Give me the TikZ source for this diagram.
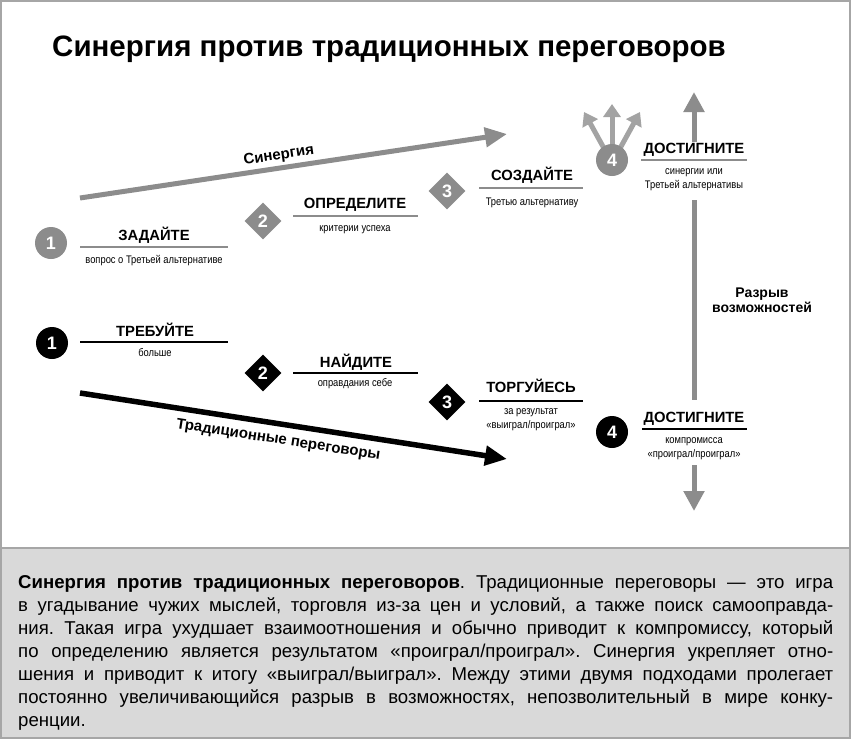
\documentclass[tikz,border=0pt]{standalone}
\usepackage{fontspec}
\setmainfont{Liberation Sans}
\newfontfamily\condf[FakeStretch=0.85]{Liberation Sans}
\usetikzlibrary{arrows.meta,shapes.geometric}
\definecolor{mgray}{HTML}{8C8C8C}
\definecolor{lgray}{HTML}{A3A3A3}
\definecolor{panel}{HTML}{D9D9D9}
\definecolor{framec}{HTML}{A6A6A6}
\begin{document}
\begin{tikzpicture}[x=1pt,y=-1pt,
  headt/.style={font=\fontsize{14.8}{16}\selectfont\bfseries, inner sep=0pt, anchor=base},
  subt/.style={font=\condf\fontsize{11}{13.5}\selectfont, align=center, inner sep=0pt, anchor=north},
  numc/.style={circle, fill=#1, minimum size=32pt, inner sep=0pt, text=white, font=\fontsize{18}{18}\selectfont\bfseries},
  numd/.style={diamond, fill=#1, minimum size=37pt, inner sep=0pt, text=white, font=\fontsize{18}{18}\selectfont\bfseries},
  rulegray/.style={draw=mgray, line width=1.6pt},
  ruleblack/.style={draw=black, line width=1.6pt},
  lbl/.style={font=\fontsize{15}{16}\selectfont\bfseries, inner sep=2pt},
  garrow/.style={draw=mgray, line width=5pt, -{Triangle[length=22pt,width=19pt]}},
  barrow/.style={draw=black, line width=5.5pt, -{Triangle[length=22pt,width=19pt]}},
  varrow/.style={draw=mgray, line width=5pt, -{Triangle[length=20pt,width=20pt]}},
  farrow/.style={draw=lgray, line width=5pt, -{Triangle[length=13pt,width=17pt]}}
]
\useasboundingbox (0,0) rectangle (851,739);
% frame and panel
\path[fill=white] (1,1) rectangle (850,548);
\path[fill=panel, draw=framec, line width=1.5pt] (1,548) rectangle (850,738);
\draw[framec, line width=2pt] (1,1) rectangle (850,738);

% title
\node[anchor=base west, inner sep=0pt, font=\fontsize{29.5}{30}\selectfont\bfseries] (title) at (52,56) {Синергия против традиционных переговоров};

% main arrows
\coordinate (s0) at (80,198);
\coordinate (s1) at (507,134);
\draw[garrow] (s0) -- node[pos=0.47, sloped, above=1pt, lbl] (synl) {Синергия} (s1);
\coordinate (t0) at (80,393);
\coordinate (t1) at (507,459);
\draw[barrow] (t0) -- node[pos=0.47, sloped, below=5pt, lbl] (tradl) {Традиционные переговоры} (t1);

% vertical gap arrows
\coordinate (u0) at (694,142);
\coordinate (u1) at (694,92);
\draw[varrow] (u0) -- (u1);
\coordinate (m0) at (694,200);
\coordinate (m1) at (694,400);
\draw[draw=mgray, line width=5pt] (m0) -- (m1);
\coordinate (d0) at (694,465);
\coordinate (d1) at (694,511);
\draw[varrow] (d0) -- (d1);
\node[font=\fontsize{14}{15}\selectfont\bfseries, align=center, inner sep=0pt] (gap) at (762,300) {Разрыв\\возможностей};

% fan arrows
\coordinate (f0) at (606,152);
\coordinate (f1) at (584,112);
\coordinate (g0) at (612,152);
\coordinate (g1) at (612,104);
\coordinate (h0) at (618,152);
\coordinate (h1) at (640,112);
\draw[farrow] (f0) -- (f1);
\draw[farrow] (g0) -- (g1);
\draw[farrow] (h0) -- (h1);

% synergy steps
\node[numc=mgray] (a1) at (51,243) {1};
\node[headt] (ah1) at (154,240) {ЗАДАЙТЕ};
\draw[rulegray] (80,247) -- (228,247);
\node[subt] (as1) at (154,255.5) {вопрос о Третьей альтернативе};

\node[numd=mgray] (a2) at (263,221) {2};
\node[headt] (ah2) at (355,208.5) {ОПРЕДЕЛИТЕ};
\draw[rulegray] (293,216) -- (418,216);
\node[subt] (as2) at (355,225.5) {критерии успеха};

\node[numd=mgray] (a3) at (447,191) {3};
\node[headt] (ah3) at (532,180.5) {СОЗДАЙТЕ};
\draw[rulegray] (479,188) -- (583,188);
\node[subt] (as3) at (532,197.5) {Третью альтернативу};

\node[numc=mgray] (a4) at (612,160) {4};
\node[headt] (ah4) at (694,153.5) {ДОСТИГНИТЕ};
\draw[rulegray] (641,160) -- (747,160);
\node[subt] (as4) at (694,168.5) {синергии или\\Третьей альтернативы};

% traditional steps
\node[numc=black] (b1) at (52,343) {1};
\node[headt] (bh1) at (155,336.5) {ТРЕБУЙТЕ};
\draw[ruleblack] (80,342) -- (228,342);
\node[subt] (bs1) at (155,348.5) {больше};

\node[numd=black] (b2) at (263,373) {2};
\node[headt] (bh2) at (356,367.5) {НАЙДИТЕ};
\draw[ruleblack] (293,373) -- (418,373);
\node[subt] (bs2) at (355,378.5) {оправдания себе};

\node[numd=black] (b3) at (447,402) {3};
\node[headt] (bh3) at (531,392.5) {ТОРГУЙЕСЬ};
\draw[ruleblack] (479,401) -- (583,401);
\node[subt] (bs3) at (531,408.5) {за результат\\«выиграл/проиграл»};

\node[numc=black] (b4) at (612,432) {4};
\node[headt] (bh4) at (694,422.5) {ДОСТИГНИТЕ};
\draw[ruleblack] (642,429) -- (747,429);
\node[subt] (bs4) at (694,437.5) {компромисса\\«проиграл/проиграл»};

% caption
\node[anchor=north west, inner sep=0pt, text width=815pt, align=justify, font=\fontsize{18.6}{23}\selectfont\frenchspacing] (cap) at (18,575) {{\bfseries Синергия против традиционных переговоров}. Традиционные переговоры — это игра\linebreak в угадывание чужих мыслей, торговля из-за цен и условий, а также поиск самооправда-\linebreak ния. Такая игра ухудшает взаимоотношения и обычно приводит к компромиссу, который\linebreak по определению является результатом «проиграл/проиграл». Синергия укрепляет отно-\linebreak шения и приводит к итогу «выиграл/выиграл». Между этими двумя подходами пролегает\linebreak постоянно увеличивающийся разрыв в возможностях, непозволительный в мире конку-\linebreak ренции.};
\end{tikzpicture}
\end{document}
